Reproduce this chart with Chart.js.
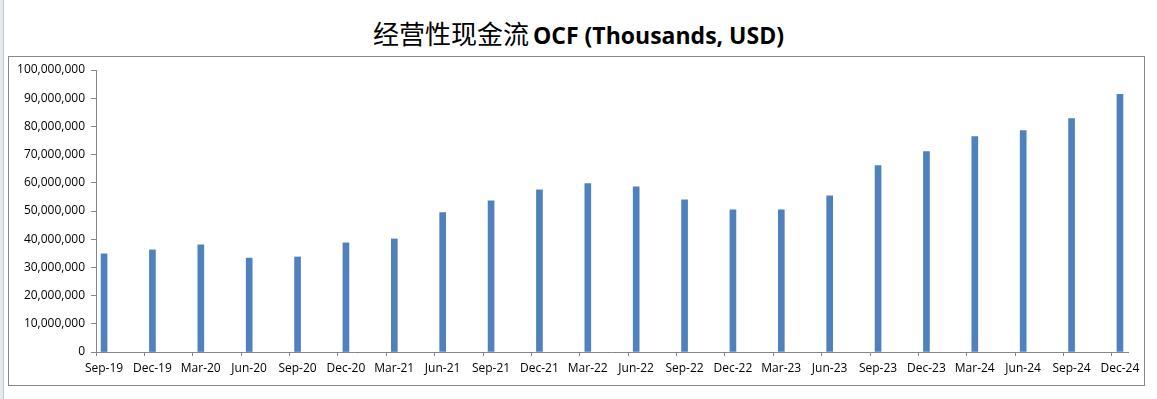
<!DOCTYPE html>
<html>
<head>
<meta charset="utf-8">
<title>OCF</title>
<script src="https://cdn.jsdelivr.net/npm/chart.js@4.4.1/dist/chart.umd.min.js"></script>
<style>
  html, body { margin: 0; padding: 0; background: #fff; }
  body { width: 1157px; height: 399px; position: relative; overflow: hidden; }
  .sheet-edge { position: absolute; left: 0; top: 0; width: 3px; height: 399px; background: #e4e7eb; border-right: 1px solid #c3c7cc; }
  .frame { position: absolute; left: 8px; top: 56px; width: 1135px; height: 328px; border: 1px solid #888; }
  .title { position: absolute; left: 0; top: 15px; width: 1157px; text-align: center; line-height: 36px; color: #000; white-space: nowrap; }
  .title .zh { font-family: "Noto Sans CJK SC", sans-serif; font-size: 26px; font-weight: 400; }
  .title .en { font-family: "Open Sans", sans-serif; font-size: 23px; font-weight: 700; }
  canvas { position: absolute; left: 0; top: 0; }
</style>
</head>
<body>
<div class="sheet-edge"></div>
<div class="frame"></div>
<div class="title"><span class="zh">经营性现金流</span> <span class="en">OCF (Thousands, USD)</span></div>
<canvas id="ocfChart" width="1157" height="399"></canvas>

<script>
// quarter ends shown on the x axis
const quarters = [
  'Sep-19', 'Dec-19', 'Mar-20', 'Jun-20', 'Sep-20', 'Dec-20', 'Mar-21', 'Jun-21',
  'Sep-21', 'Dec-21', 'Mar-22', 'Jun-22', 'Sep-22', 'Dec-22', 'Mar-23', 'Jun-23',
  'Sep-23', 'Dec-23', 'Mar-24', 'Jun-24', 'Sep-24', 'Dec-24'
];

// operating cash flow, thousands USD
const ocfValues = [
  34800000, 36200000, 38000000, 33300000, 33700000, 38700000, 40100000, 49400000,
  53600000, 57500000, 59700000, 58600000, 54000000, 50400000, 50400000, 55400000,
  66100000, 71100000, 76400000, 78500000, 82800000, 91400000
];

// y axis range
const yMin = 0;
const yMax = 100000000;
const yStep = 10000000;

const MONTHS = ['Jan', 'Feb', 'Mar', 'Apr', 'May', 'Jun', 'Jul', 'Aug', 'Sep', 'Oct', 'Nov', 'Dec'];

// excel-style date axis: one slot per month
function monthIndex(label) {
  const parts = label.split('-');
  return (2000 + Number(parts[1])) * 12 + MONTHS.indexOf(parts[0]);
}
const firstMonth = monthIndex(quarters[0]);
const lastMonth = monthIndex(quarters[quarters.length - 1]) - firstMonth;
const points = quarters.map((q, i) => ({ x: monthIndex(q) - firstMonth, y: ocfValues[i] }));

const axisGrey = '#868686';
const tickFont = { family: '"Open Sans", sans-serif', size: 12 };

new Chart(document.getElementById('ocfChart'), {
  type: 'bar',
  data: {
    datasets: [{
      label: 'OCF',
      data: points,
      backgroundColor: '#4F81BD',
      borderWidth: 0,
      barThickness: 6
    }]
  },
  options: {
    responsive: false,
    animation: false,
    layout: { padding: { left: 8, right: 29, top: 70, bottom: 14 } },
    plugins: {
      legend: { display: false },
      tooltip: { enabled: false },
      title: { display: false }
    },
    scales: {
      x: {
        type: 'linear',
        bounds: 'data',
        offset: false,
        min: -0.5,
        max: lastMonth + 0.5,
        afterBuildTicks: (axis) => {
          // tick marks at the start of each quarter-end month
          axis.ticks = quarters.map(q => ({ value: monthIndex(q) - firstMonth - 0.5 }));
        },
        afterFit: (axis) => { axis.height = 33; },
        grid: { offset: false, drawOnChartArea: false, drawTicks: true, tickLength: 4, color: axisGrey },
        border: { display: true, color: axisGrey },
        ticks: {
          autoSkip: false,
          maxRotation: 0,
          padding: 5,
          labelOffset: 8,
          color: '#000',
          font: tickFont,
          callback: (value, index) => quarters[index]
        }
      },
      y: {
        min: yMin,
        max: yMax,
        afterFit: (axis) => { axis.width = 88; },
        grid: { drawOnChartArea: false, drawTicks: true, tickLength: 5, color: axisGrey },
        border: { display: true, color: axisGrey },
        ticks: {
          stepSize: yStep,
          padding: 6,
          color: '#000',
          font: tickFont,
          callback: (value) => value.toLocaleString('en-US')
        }
      }
    }
  }
});
</script>
</body>
</html>
